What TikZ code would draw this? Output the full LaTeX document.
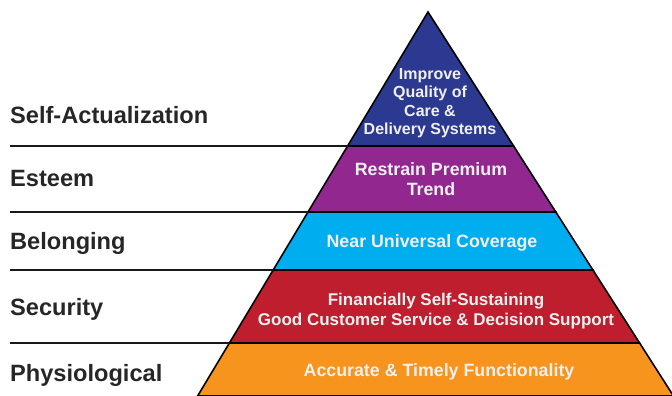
\documentclass[tikz,border=0pt]{standalone}
\usepackage{fontspec}
\setmainfont{Liberation Sans}

\definecolor{peakblue}{HTML}{2B3990}
\definecolor{esteempurple}{HTML}{92278F}
\definecolor{belongcyan}{HTML}{00AEEF}
\definecolor{securityred}{HTML}{BE1E2D}
\definecolor{basicorange}{HTML}{F7941D}

\tikzset{
  needlabel/.style={anchor=base west,inner sep=0pt,text=black!85,
    font=\bfseries\fontsize{23.6}{28}\selectfont},
  goaltext/.style={align=center,inner sep=0pt,text=white!94!black,
    font=\bfseries\fontsize{17.8}{20}\selectfont},
  band/.style={draw=black,line width=1.6pt,line join=miter},
  rule/.style={draw=black!90,line width=1.8pt}
}

\begin{document}
\begin{tikzpicture}[x=1pt,y=-1pt]

\useasboundingbox (0,0) rectangle (672,396);

% pyramid bands, top to bottom
\filldraw[band,fill=peakblue] (428,12) -- (513.6,146) -- (347.6,146) -- cycle;
\filldraw[band,fill=esteempurple] (347.6,146) -- (513.6,146) -- (555.8,212) -- (308,212) -- cycle;
\filldraw[band,fill=belongcyan] (308,212) -- (555.8,212) -- (592.9,270) -- (273.2,270) -- cycle;
\filldraw[band,fill=securityred] (273.2,270) -- (592.9,270) -- (639.6,343) -- (229.4,343) -- cycle;
\filldraw[band,fill=basicorange] (229.4,343) -- (639.6,343) -- (673.5,396) -- (197.6,396) -- cycle;

% rules on the left
\draw[rule] (10,146) -- (347.6,146);
\draw[rule] (10,212) -- (308,212);
\draw[rule] (10,270) -- (273.2,270);
\draw[rule] (10,343) -- (229.4,343);

% needs
\node[needlabel](self actualization) at (10,123.3) {Self-Actualization};
\node[needlabel](esteem) at (10,186.5) {Esteem};
\node[needlabel](belonging) at (10,249.3) {Belonging};
\node[needlabel](security) at (10,315) {Security};
\node[needlabel](physiological) at (10,381.7) {Physiological};

% goals
\node[goaltext,font=\bfseries\fontsize{16}{18.5}\selectfont](quality) at (430,103) {Improve\\Quality of\\Care \&\\Delivery Systems};
\node[goaltext](premium) at (431,179) {Restrain Premium\\Trend};
\node[goaltext](coverage) at (432,243) {Near Universal Coverage};
\node[goaltext,font=\bfseries\fontsize{17}{20}\selectfont](sustaining) at (436,311) {Financially Self-Sustaining\\Good Customer Service \& Decision Support};
\node[goaltext](functionality) at (439,372) {Accurate \& Timely Functionality};

\end{tikzpicture}
\end{document}
